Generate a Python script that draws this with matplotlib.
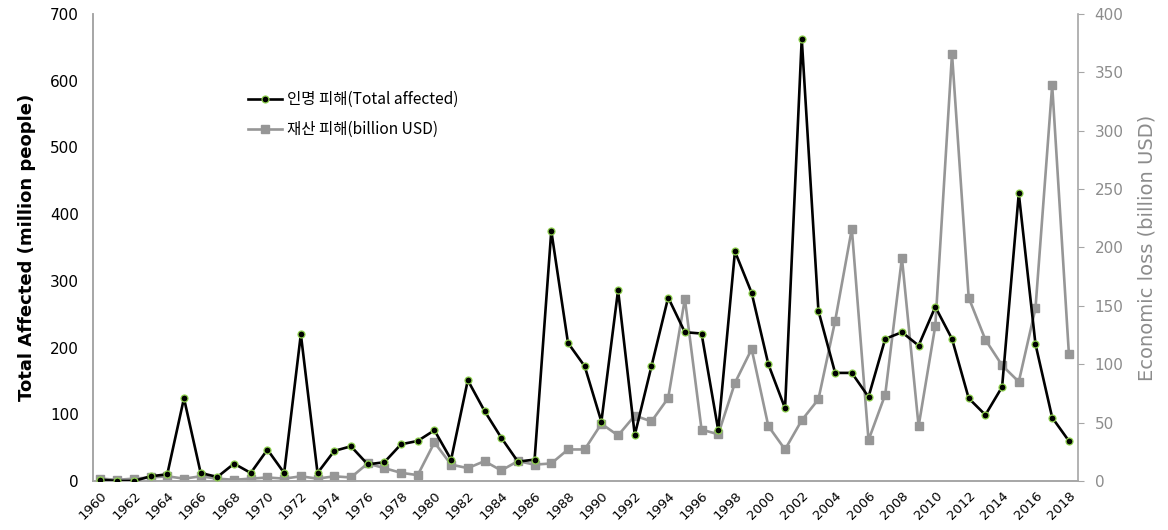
import matplotlib
matplotlib.use('Agg')
import matplotlib.pyplot as plt
import numpy as np

# 데이터
years = list(range(1960, 2019))

total_affected = [2, 0, 0, 7, 10, 124, 12, 6, 26, 12,
                  47, 12, 220, 12, 45, 52, 25, 28, 55, 60,
                  76, 32, 151, 105, 65, 29, 32, 375, 207, 172,
                  89, 286, 69, 172, 275, 223, 221, 76, 344, 282,
                  175, 109, 663, 255, 162, 162, 126, 213, 223, 203,
                  261, 213, 124, 99, 141, 431, 205, 95, 60]

economic_loss = [2, 1, 2, 3, 4, 2, 4, 2, 1, 2,
                 3, 2, 4, 2, 4, 3, 15, 11, 7, 5,
                 33, 14, 11, 17, 9, 17, 14, 15, 27, 27,
                 49, 39, 56, 51, 71, 156, 44, 40, 84, 113,
                 47, 27, 52, 70, 137, 216, 35, 74, 191, 47,
                 133, 366, 157, 121, 99, 85, 148, 339, 109]

xtick_years = list(range(1960, 2019, 2))

label_people = '인명 피해(Total affected)'
label_money = '재산 피해(billion USD)'

plt.rcParams['font.family'] = ['DejaVu Sans', 'Noto Sans CJK KR']

axis_grey = '#a6a6a6'
line_grey = '#969696'
tick_grey = '#8c8c8c'

fig = plt.figure(figsize=(11.68, 5.30), dpi=100)
ax1 = fig.add_axes([0.0796, 0.0925, 0.8434, 0.8811])
ax2 = ax1.twinx()

# 인명 피해 (왼쪽 축)
l1, = ax1.plot(years, total_affected, color='black', linewidth=1.9,
               marker='o', markersize=5, markerfacecolor='black',
               markeredgecolor='#8fd14f', markeredgewidth=0.9,
               label=label_people, zorder=3)

# 재산 피해 (오른쪽 축)
l2, = ax2.plot(years, economic_loss, color=line_grey, linewidth=1.9,
               marker='s', markersize=5.5, markerfacecolor=line_grey,
               markeredgecolor=line_grey, label=label_money, zorder=2)

ax1.set_zorder(ax2.get_zorder() + 1)
ax1.patch.set_visible(False)

ax1.set_xlim(1959.55, 2018.55)
ax1.set_ylim(0, 700)
ax2.set_ylim(0, 400)
ax1.set_yticks(np.arange(0, 701, 100))
ax2.set_yticks(np.arange(0, 401, 50))

ax1.set_xticks(xtick_years)
ax1.set_xticklabels([str(y) for y in xtick_years], rotation=45,
                    ha='right', rotation_mode='anchor', fontsize=9.5)
ax1.tick_params(axis='x', length=0, pad=6)
ax1.tick_params(axis='y', length=0, labelsize=11, pad=10)
ax2.tick_params(axis='y', length=4, color=axis_grey, labelsize=11,
                labelcolor=tick_grey, pad=8)

for a in (ax1, ax2):
    a.spines['top'].set_visible(False)
    for s in ('left', 'right', 'bottom'):
        a.spines[s].set_color(axis_grey)
        a.spines[s].set_linewidth(1.2)
ax1.spines['right'].set_visible(False)

ax1.set_ylabel('Total Affected (million people)', fontsize=13,
               fontweight='bold', labelpad=10)
ax2.set_ylabel('Economic loss (billion USD)', fontsize=14,
               color=tick_grey, labelpad=10)

leg = ax1.legend(handles=[l1, l2], loc='upper left',
                 bbox_to_anchor=(0.143, 0.865), frameon=False,
                 prop={'family': ['Noto Sans CJK KR', 'DejaVu Sans'], 'size': 11.2},
                 handlelength=2.2, handletextpad=0.3, labelspacing=0.85)

fig.savefig('out.png', dpi=100)
